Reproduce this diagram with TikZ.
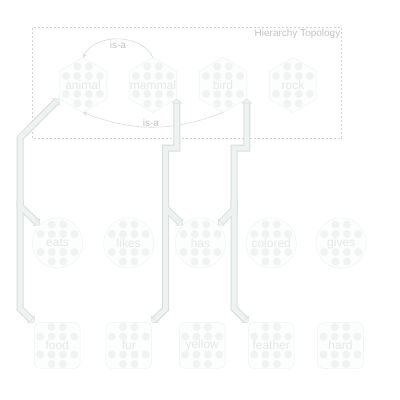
\documentclass[tikz,border=0pt]{standalone}
\usepackage{fontspec}
\setmainfont{Liberation Sans}
\usetikzlibrary{shapes.geometric,arrows.meta,calc}
\definecolor{frameC}{HTML}{D2D2D2}
\definecolor{titleC}{HTML}{C2C2C2}
\definecolor{nodeFill}{HTML}{FCFDFD}
\definecolor{nodeLine}{HTML}{F0F2F1}
\definecolor{dotC}{HTML}{F1F3F2}
\definecolor{txtC}{HTML}{E6E8E8}
\definecolor{arcC}{HTML}{DADADA}
\definecolor{conLine}{HTML}{D8DDDB}
\definecolor{conFill}{HTML}{EEF2F0}
\begin{document}
\begin{tikzpicture}[x=1pt,y=-1pt,
  ctip/.tip={Triangle[width=10.5pt,length=4.5pt,line width=0.5pt,fill=conFill]},
  atip/.tip={Stealth[open,length=4pt,width=4.5pt,line width=0.5pt]},
  dotgrid/.style={path picture={
    \foreach \dx/\dy in {-5.75/-18.5,5.75/-18.5,-17/-9,-5.75/-9,5.75/-9,17/-9,-17/9,-5.75/9,5.75/9,17/9,-5.75/18.5,5.75/18.5}
      \fill[dotC] ($(path picture bounding box.center)+(\dx,\dy)$) circle (4pt);}},
  txtS/.style={text=txtC, font=\fontsize{12}{14}\selectfont, inner sep=0pt},
  base/.style={draw=nodeLine, fill=nodeFill, line width=0.5pt, inner sep=0pt, outer sep=0pt, dotgrid},
  hexnode/.style={base, regular polygon, regular polygon sides=6, shape border rotate=30, minimum size=55pt},
  circnode/.style={base, circle, minimum size=50.4pt},
  sqnode/.style={base, rectangle, rounded corners=5pt, minimum width=45.7pt, minimum height=45.7pt},
  conO/.style={draw=conLine, line width=7pt},
  conI/.style={draw=conFill, line width=5pt},
  arcS/.style={draw=arcC, line width=0.6pt, -atip},
  islab/.style={text=titleC, font=\fontsize{10}{12}\selectfont, inner sep=1pt},
]
\useasboundingbox (0,0) rectangle (400,400);
% frame
\draw[frameC, line width=0.7pt, dash pattern=on 2pt off 2pt] (32.3,27.7) rectangle (341.7,138.3);
\node[anchor=east, text=titleC, font=\fontsize{10}{12}\selectfont, inner sep=0pt] (title) at (340.5,33.5) {Hierarchy Topology};
% row 1
\node[hexnode, label={[txtS, name=animal-t]center:animal}] (animal) at (83,85) {};
\node[hexnode, label={[txtS, name=mammal-t]center:mammal}] (mammal) at (153,85) {};
\node[hexnode, label={[txtS, name=bird-t]center:bird}] (bird) at (223,85) {};
\node[hexnode, label={[txtS, name=rock-t]center:rock}] (rock) at (293,85) {};
% row 2
\node[circnode, label={[txtS, name=eats-t]center:eats}] (eats) at (57.5,243) {};
\node[circnode, label={[txtS, name=likes-t]center:likes}] (likes) at (128.7,243) {};
\node[circnode, label={[txtS, name=has-t]center:has}] (has) at (200.5,243) {};
\node[circnode, label={[txtS, name=colored-t]center:colored}] (colored) at (271.2,243) {};
\node[circnode, label={[txtS, name=gives-t]center:gives}] (gives) at (341.2,243) {};
% row 3
\node[sqnode, label={[txtS, name=food-t]center:food}] (food) at (57.2,345.5) {};
\node[sqnode, label={[txtS, name=fur-t]center:fur}] (fur) at (128.8,345.5) {};
\node[sqnode, label={[txtS, name=yellow-t]center:yellow}] (yellow) at (202.2,345.5) {};
\node[sqnode, label={[txtS, name=feather-t]center:feather}] (feather) at (271.2,345.5) {};
\node[sqnode, label={[txtS, name=hard-t]center:hard}] (hard) at (340.5,345.5) {};
% is-a arcs
\draw[arcS] (mammal.90) .. controls (141,33) and (95,33) .. (animal.90);
\node[islab] (isa1) at (118,45) {is-a};
\draw[arcS] (bird.-90) .. controls (171.5,132) and (134.5,132) .. (animal.-90);
\node[islab] (isa2) at (151,123) {is-a};
% connectors: outer pass
\draw[conO, ctip-ctip] (animal.-150) -- (20,137.95) -- (20,206) -- (eats.135);
\draw[conO, -ctip] (20,200) -- (20,308.7) -- (food.north west);
\draw[conO, ctip-ctip] (mammal.-30) -- (mammal.-30 |- 0,148) -- (165.5,148) -- (165.5,208) -- (has.135);
\draw[conO, -ctip] (165.5,200) -- (165.5,308.85) -- (fur.north east);
\draw[conO, ctip-ctip] (bird.-30) -- (bird.-30 |- 0,148) -- (234,148) -- (234,209.5) -- (has.45);
\draw[conO, -ctip] (234,200) -- (234,308.3) -- (feather.north west);
% connectors: inner pass
\draw[conI, shorten <=4.5pt, shorten >=4.5pt] (animal.-150) -- (20,137.95) -- (20,206) -- (eats.135);
\draw[conI, shorten >=4.5pt] (20,200) -- (20,308.7) -- (food.north west);
\draw[conI, shorten <=4.5pt, shorten >=4.5pt] (mammal.-30) -- (mammal.-30 |- 0,148) -- (165.5,148) -- (165.5,208) -- (has.135);
\draw[conI, shorten >=4.5pt] (165.5,200) -- (165.5,308.85) -- (fur.north east);
\draw[conI, shorten <=4.5pt, shorten >=4.5pt] (bird.-30) -- (bird.-30 |- 0,148) -- (234,148) -- (234,209.5) -- (has.45);
\draw[conI, shorten >=4.5pt] (234,200) -- (234,308.3) -- (feather.north west);
\end{tikzpicture}
\end{document}
